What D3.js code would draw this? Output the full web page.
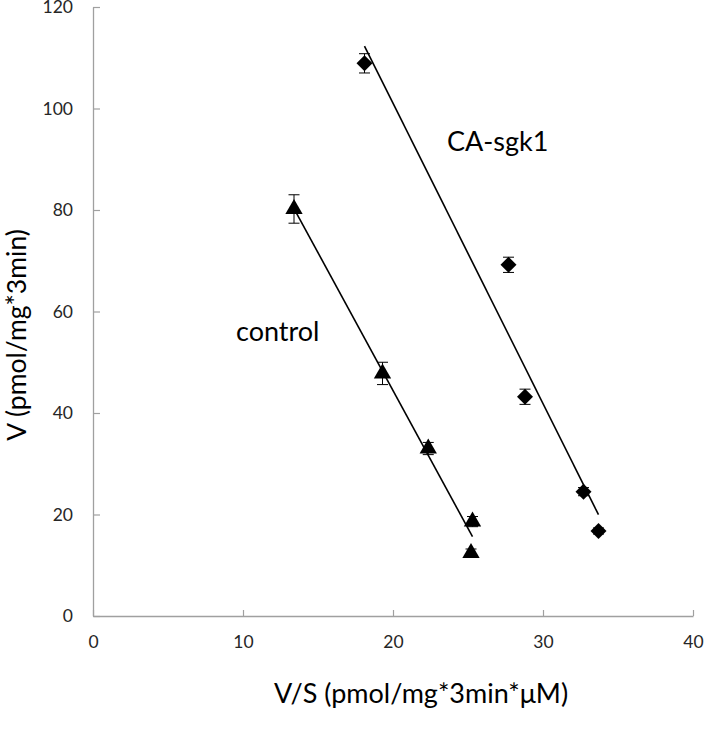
<!DOCTYPE html>
<html>
<head>
<meta charset="utf-8">
<script src="https://cdn.jsdelivr.net/npm/d3@7"></script>
<style>
  html, body { margin: 0; padding: 0; background: #fff; }
  svg { display: block; }
</style>
</head>
<body>
<svg id="chart" width="706" height="743"></svg>
<script>
// ---- data ----
const xTicks = [0, 10, 20, 30, 40];
const yTicks = [0, 20, 40, 60, 80, 100, 120];

const controlX   = [13.4, 19.3, 22.35, 25.3, 25.2];
const controlY   = [80.2, 47.8, 33.0, 18.6, 12.4];
const controlErr = [2.8, 2.2, 1.2, 1.0, 0.8];

const sgkX   = [18.1, 27.7, 28.8, 32.7, 33.7];
const sgkY   = [108.9, 69.2, 43.2, 24.5, 16.75];
const sgkErr = [1.9, 1.5, 1.5, 0.8, 0.6];

const seriesLabels = ["control", "CA-sgk1"];
const xTitle = "V/S (pmol/mg*3min*\u03BCM)";
const yTitle = "V (pmol/mg*3min)";

// ---- layout ----
const svg = d3.select("#chart");
const x = d3.scaleLinear().domain([0, 40]).range([93, 693]);
const y = d3.scaleLinear().domain([0, 120]).range([616, 7]);
const font = "Lato, 'Open Sans', sans-serif";

// axes
const gx = svg.append("g").attr("transform", `translate(0,${y(0)})`)
  .call(d3.axisBottom(x).tickValues(xTicks).tickSizeInner(-6).tickSizeOuter(0).tickPadding(20));
const gy = svg.append("g").attr("transform", `translate(${x(0)},0)`)
  .call(d3.axisLeft(y).tickValues(yTicks).tickSizeInner(-7).tickSizeOuter(0).tickPadding(20));
[gx, gy].forEach(g => {
  g.select(".domain").attr("stroke", "#a0a0a0").attr("stroke-width", 1.3);
  g.selectAll(".tick line").attr("stroke", "#a0a0a0").attr("stroke-width", 1.2);
  g.selectAll(".tick text").attr("font-family", font).attr("font-size", 17.5).attr("fill", "#262626");
});

// regression helper (Excel-style linear trendline over the data range)
function fit(xs, ys) {
  const n = xs.length;
  const mx = d3.mean(xs), my = d3.mean(ys);
  let sxy = 0, sxx = 0;
  for (let i = 0; i < n; i++) { sxy += (xs[i]-mx)*(ys[i]-my); sxx += (xs[i]-mx)**2; }
  const b = sxy / sxx, a = my - b*mx;
  const x0 = d3.min(xs), x1 = d3.max(xs);
  return [[x0, a + b*x0], [x1, a + b*x1]];
}

function drawSeries(xs, ys, errs, symbolType, size) {
  const pts = xs.map((v, i) => ({x: v, y: ys[i], e: errs[i]}));
  const line = fit(xs, ys);
  svg.append("line")
    .attr("x1", x(line[0][0])).attr("y1", y(line[0][1]))
    .attr("x2", x(line[1][0])).attr("y2", y(line[1][1]))
    .attr("stroke", "#000").attr("stroke-width", 1.6);
  const g = svg.append("g");
  const eb = g.selectAll("g.err").data(pts).join("g").attr("class", "err");
  eb.append("line")
    .attr("x1", d => x(d.x)).attr("x2", d => x(d.x))
    .attr("y1", d => y(d.y + d.e)).attr("y2", d => y(d.y - d.e))
    .attr("stroke", "#000").attr("stroke-width", 1);
  [1, -1].forEach(s => {
    eb.append("line")
      .attr("x1", d => x(d.x) - 5.5).attr("x2", d => x(d.x) + 5.5)
      .attr("y1", d => y(d.y + s*d.e)).attr("y2", d => y(d.y + s*d.e))
      .attr("stroke", "#000").attr("stroke-width", 1);
  });
  g.selectAll("path.pt").data(pts).join("path").attr("class", "pt")
    .attr("transform", d => `translate(${x(d.x)},${y(d.y)})`)
    .attr("d", d3.symbol().type(symbolType).size(size))
    .attr("fill", "#000");
}

drawSeries(controlX, controlY, controlErr, d3.symbolTriangle, 130);
// diamond marker
const diamond = { draw(ctx, size) { const r = Math.sqrt(size / 2); ctx.moveTo(0, -r); ctx.lineTo(r, 0); ctx.lineTo(0, r); ctx.lineTo(-r, 0); ctx.closePath(); } };
drawSeries(sgkX, sgkY, sgkErr, diamond, 128);

// series labels
svg.append("text").attr("x", 236).attr("y", 341).text(seriesLabels[0])
  .attr("font-family", font).attr("font-size", 27).attr("fill", "#000");
svg.append("text").attr("x", 447).attr("y", 151).text(seriesLabels[1])
  .attr("font-family", font).attr("font-size", 27).attr("fill", "#000");

// axis titles
svg.append("text").attr("x", 421).attr("y", 703).attr("text-anchor", "middle").text(xTitle)
  .attr("font-family", font).attr("font-size", 27).attr("fill", "#000");
svg.append("text").attr("transform", "translate(26,335) rotate(-90)").attr("text-anchor", "middle").text(yTitle)
  .attr("font-family", font).attr("font-size", 26.5).attr("fill", "#000");
</script>
</body>
</html>
